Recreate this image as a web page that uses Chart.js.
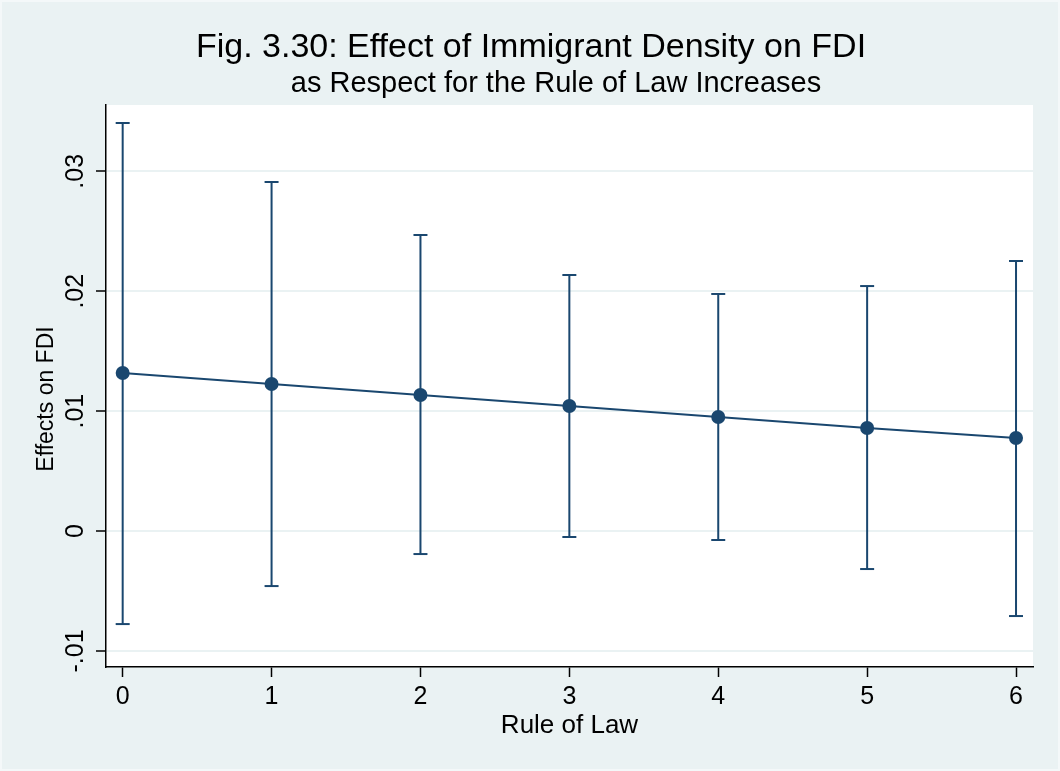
<!DOCTYPE html>
<html>
<head>
<meta charset="utf-8">
<title>Effect of Immigrant Density on FDI</title>
<script src="https://cdn.jsdelivr.net/npm/chart.js@4.4.1/dist/chart.umd.min.js"></script>
<style>
  html, body { margin: 0; padding: 0; background: #eaf2f3; }
  #wrap { width: 1060px; height: 771px; position: relative; }
  canvas { display: block; }
</style>
</head>
<body>
<div id="wrap"><canvas id="chart" width="1060" height="771"></canvas></div>
<script>
// Marginal effect of immigrant density on FDI at each level of rule of law
const ruleOfLaw = [0, 1, 2, 3, 4, 5, 6];
const effect    = [0.01318, 0.01226, 0.01134, 0.01043, 0.00951, 0.00859, 0.00776];
const upperCI   = [0.03403, 0.02911, 0.02469, 0.02135, 0.01977, 0.02043, 0.02252];
const lowerCI   = [-0.00776, -0.00459, -0.00192, -0.00050, -0.00075, -0.00317, -0.00709];

const xTickValues = [0, 1, 2, 3, 4, 5, 6];
const xTickLabels = ['0', '1', '2', '3', '4', '5', '6'];
const yTickValues = [-0.01, 0, 0.01, 0.02, 0.03];
const yTickLabels = ['-.01', '0', '.01', '.02', '.03'];

const titleText    = 'Fig. 3.30: Effect of Immigrant Density on FDI';
const subtitleText = 'as Respect for the Rule of Law Increases';
const xTitleText   = 'Rule of Law';
const yTitleText   = 'Effects on FDI';

const NAVY = '#1a476f';
const FONT = '"Liberation Sans", Arial, Helvetica, sans-serif';

// vertical confidence-interval segments, separated by gaps
const ciSegments = [];
ruleOfLaw.forEach((x, i) => {
  ciSegments.push({ x: x, y: lowerCI[i] });
  ciSegments.push({ x: x, y: upperCI[i] });
  ciSegments.push({ x: x, y: null });
});
const capPoints = [];
ruleOfLaw.forEach((x, i) => {
  capPoints.push({ x: x, y: upperCI[i] });
  capPoints.push({ x: x, y: lowerCI[i] });
});
const estimatePoints = ruleOfLaw.map((x, i) => ({ x: x, y: effect[i] }));

const backgroundPlugin = {
  id: 'panelBackground',
  beforeDraw(chart) {
    const { ctx, chartArea: a } = chart;
    ctx.save();
    ctx.fillStyle = '#eaf2f3';
    ctx.fillRect(0, 0, chart.width, chart.height);
    ctx.strokeStyle = '#f4f8f9';
    ctx.lineWidth = 2;
    ctx.strokeRect(1, 1, chart.width - 2, chart.height - 2);
    ctx.fillStyle = '#ffffff';
    ctx.fillRect(a.left, a.top, a.right - a.left, a.bottom - a.top);
    ctx.restore();
  }
};

const textPlugin = {
  id: 'chartText',
  afterDraw(chart) {
    const { ctx, chartArea: a } = chart;
    const xs = chart.scales.x, ys = chart.scales.y;
    ctx.save();
    ctx.fillStyle = '#000000';
    ctx.textBaseline = 'alphabetic';
    ctx.textAlign = 'center';

    ctx.font = '34px ' + FONT;
    ctx.fillText(titleText, 531, 57);
    ctx.font = '29px ' + FONT;
    ctx.fillText(subtitleText, 556, 92);

    // x tick labels
    ctx.font = '25px ' + FONT;
    xTickValues.forEach((v, i) => {
      ctx.fillText(xTickLabels[i], xs.getPixelForValue(v), a.bottom + 37);
    });

    // x axis title
    ctx.font = '26px ' + FONT;
    ctx.fillText(xTitleText, (a.left + a.right) / 2, a.bottom + 66);

    // y tick labels, rotated
    ctx.font = '25px ' + FONT;
    yTickValues.forEach((v, i) => {
      ctx.save();
      ctx.translate(a.left - 23, ys.getPixelForValue(v));
      ctx.rotate(-Math.PI / 2);
      ctx.fillText(yTickLabels[i], 0, 0);
      ctx.restore();
    });

    // y axis title
    ctx.font = '23px ' + FONT;
    ctx.save();
    ctx.translate(53, 399);
    ctx.rotate(-Math.PI / 2);
    ctx.fillText(yTitleText, 0, 0);
    ctx.restore();

    ctx.restore();
  }
};

new Chart(document.getElementById('chart'), {
  type: 'line',
  data: {
    datasets: [
      {
        label: 'CI',
        data: ciSegments,
        borderColor: NAVY,
        borderWidth: 2,
        pointRadius: 0,
        spanGaps: false,
        fill: false,
        order: 3
      },
      {
        label: 'CI caps',
        type: 'scatter',
        data: capPoints,
        pointStyle: 'line',
        pointRadius: 7,
        pointBorderWidth: 2,
        pointBorderColor: NAVY,
        borderColor: NAVY,
        showLine: false,
        order: 2
      },
      {
        label: 'Effect',
        data: estimatePoints,
        borderColor: NAVY,
        borderWidth: 2,
        pointRadius: 7,
        pointBorderWidth: 0,
        pointBackgroundColor: NAVY,
        tension: 0,
        fill: false,
        order: 1
      }
    ]
  },
  options: {
    responsive: false,
    animation: false,
    events: [],
    layout: { padding: { top: 105, right: 27, left: 0, bottom: 0 } },
    plugins: { legend: { display: false }, tooltip: { enabled: false }, title: { display: false } },
    scales: {
      x: {
        type: 'linear',
        min: -0.112,
        max: 6.114,
        afterBuildTicks: s => { s.ticks = xTickValues.map(v => ({ value: v })); },
        afterFit: s => { s.height = 104; },
        ticks: { display: false },
        grid: {
          drawOnChartArea: false,
          drawTicks: true,
          tickLength: 10,
          tickColor: '#000000',
          tickWidth: 1.5
        },
        border: { display: true, color: '#000000', width: 1.5 }
      },
      y: {
        type: 'linear',
        min: -0.01134,
        max: 0.03553,
        afterBuildTicks: s => { s.ticks = yTickValues.map(v => ({ value: v })); },
        afterFit: s => { s.width = 106; },
        ticks: { display: false },
        grid: {
          drawOnChartArea: true,
          color: '#eaf2f3',
          lineWidth: 2,
          drawTicks: true,
          tickLength: 10,
          tickColor: '#000000',
          tickWidth: 1.5
        },
        border: { display: true, color: '#000000', width: 1.5 }
      }
    }
  },
  plugins: [backgroundPlugin, textPlugin]
});
</script>
</body>
</html>
